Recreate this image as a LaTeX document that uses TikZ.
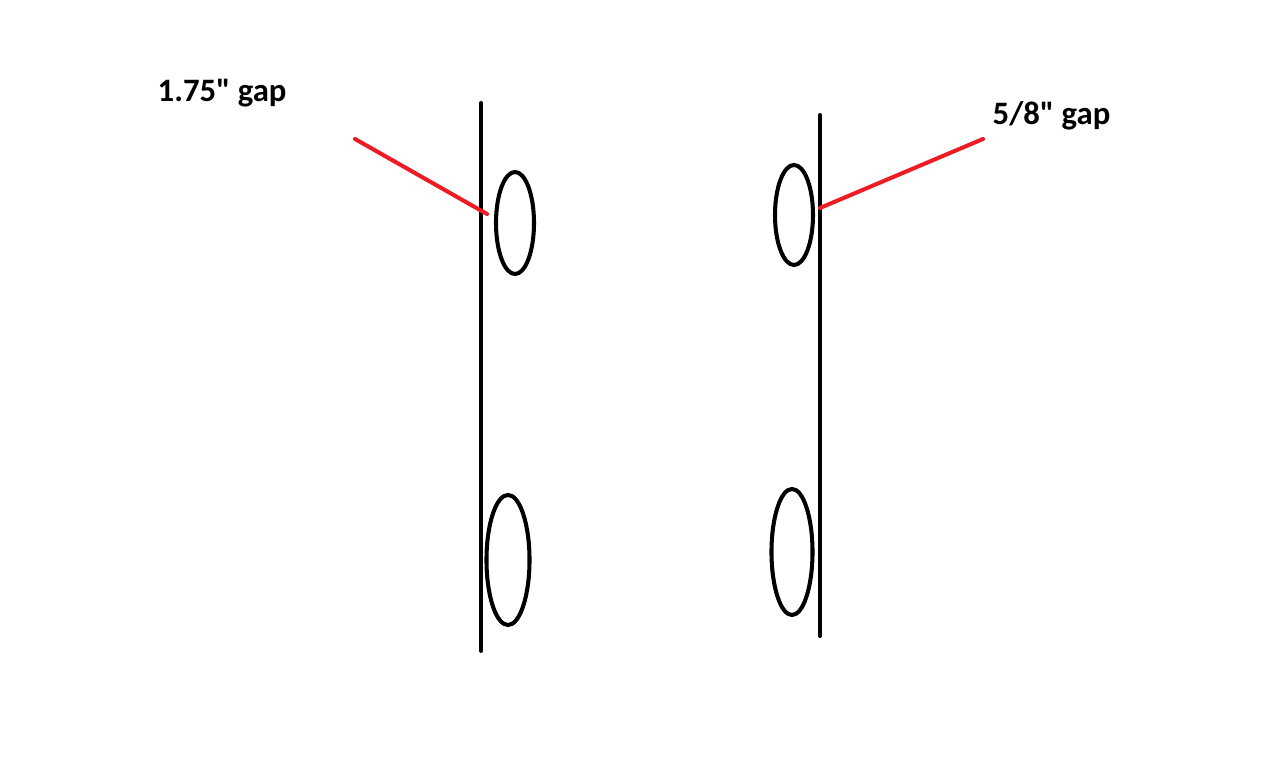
\documentclass[tikz,border=0pt]{standalone}
\usepackage{fontspec}
\setmainfont{Carlito}[Ligatures=TeXOff]
\usetikzlibrary{shapes.geometric}

\tikzset{
    rail/.style = {line width=1.15pt, line cap=round},
    loop/.style = {ellipse, draw, line width=1.15pt, inner sep=0pt},
    pointer/.style = {line width=1.15pt, draw=gapred, line cap=round},
    gaplabel/.style = {anchor=base west, inner sep=0pt, font=\bfseries\fontsize{9.3pt}{11pt}\selectfont}
}
\definecolor{gapred}{RGB}{237,28,36}

\begin{document}
\begin{tikzpicture}[x=0.01cm, y=-0.01cm]
\useasboundingbox (0,0) rectangle (1269,771);

% left rail, wide gap
\coordinate (lt) at (481,103);
\coordinate (lb) at (481,651);
\draw [rail] (lt) -- (lb);
\node (lup) [loop, minimum width=0.38cm, minimum height=1.02cm] at (515,223) {};
\node (ldown) [loop, minimum width=0.43cm, minimum height=1.30cm] at (508,560) {};

% right rail, narrow gap
\coordinate (rt) at (820,115);
\coordinate (rb) at (820,636);
\draw [rail] (rt) -- (rb);
\node (rup) [loop, minimum width=0.38cm, minimum height=1.00cm] at (794,215) {};
\node (rdown) [loop, minimum width=0.41cm, minimum height=1.26cm] at (792,552) {};

% labels
\node (lgap) [gaplabel] at (157,102) {1.75" gap};
\node (rgap) [gaplabel] at (992,125) {5/8" gap};

\coordinate (lfrom) at (355,139);
\coordinate (lto) at (487,214);
\draw [pointer] (lfrom) -- (lto);
\coordinate (rfrom) at (983,139);
\coordinate (rto) at (820,208);
\draw [pointer] (rfrom) -- (rto);

\end{tikzpicture}
\end{document}
